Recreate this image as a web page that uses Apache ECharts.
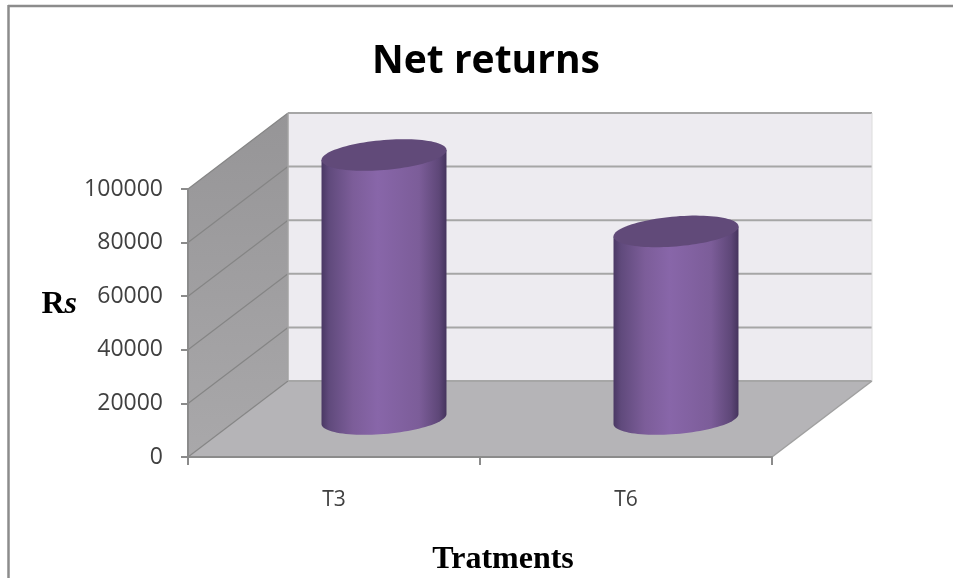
<!DOCTYPE html>
<html>
<head>
<meta charset="utf-8">
<script src="https://cdn.jsdelivr.net/npm/echarts@6/dist/echarts.min.js"></script>
<style>html,body{margin:0;padding:0;background:#fff}#c{width:953px;height:578px}</style>
</head>
<body>
<div id="c"></div>
<script>
const categories = ['T3', 'T6'];
const netReturns = [98500, 70000];
const yTicks = [0, 20000, 40000, 60000, 80000, 100000];

// oblique projection used by the 3D box
const depthX = 100, depthY = -76;
const radiusShare = 0.214, tilt = 0.08, capHalf = 15;

const chart = echarts.init(document.getElementById('c'), null, {renderer: 'canvas'});

function renderRoom(params, api) {
  const cs = params.coordSys;
  const L = cs.x, R = cs.x + cs.width;
  const yMax = api.coord([0, 100000])[1];
  const y0 = api.coord([0, 0])[1];
  const children = [];
  children.push({type: 'polygon', shape: {points: [[L, y0], [L + depthX, y0 + depthY], [L + depthX, yMax + depthY], [L, yMax]]},
    style: {fill: {type: 'linear', x: 0, y: 0, x2: 0, y2: 1, colorStops: [{offset: 0, color: '#969597'}, {offset: 1, color: '#a9a8aa'}]}}});
  children.push({type: 'polygon', shape: {points: [[L + depthX, y0 + depthY], [R + depthX, y0 + depthY], [R + depthX, yMax + depthY], [L + depthX, yMax + depthY]]},
    style: {fill: '#edebf0'}});
  children.push({type: 'polygon', shape: {points: [[L, y0], [R, y0], [R + depthX, y0 + depthY], [L + depthX, y0 + depthY]]},
    style: {fill: '#b5b4b7'}});
  yTicks.forEach(function (v) {
    const y = api.coord([0, v])[1];
    children.push({type: 'line', shape: {x1: L, y1: y, x2: L + depthX, y2: y + depthY}, style: {stroke: '#858585', lineWidth: 1.2}});
    children.push({type: 'line', shape: {x1: L + depthX, y1: y + depthY, x2: R + depthX, y2: y + depthY}, style: {stroke: '#a6a6a6', lineWidth: 2}});
  });
  children.push({type: 'line', shape: {x1: L + depthX, y1: yMax + depthY, x2: L + depthX, y2: y0 + depthY}, style: {stroke: '#a3a3a3', lineWidth: 1.5}});
  children.push({type: 'line', shape: {x1: R, y1: y0, x2: R + depthX, y2: y0 + depthY}, style: {stroke: '#a0a0a0', lineWidth: 1.5}});
  children.push({type: 'line', shape: {x1: R + depthX, y1: yMax + depthY, x2: R + depthX, y2: y0 + depthY}, style: {stroke: '#dcdcdc', lineWidth: 1}});
  return {type: 'group', children: children};
}

function renderCylinder(params, api) {
  const base = api.coord([api.value(0), 0]);
  const top = api.coord([api.value(0), api.value(1)]);
  const a = api.size([1, 0])[0] * radiusShare;
  const cx = base[0] + depthX / 2;
  const yb = base[1] + depthY / 2;
  const yt = top[1] + depthY / 2;
  const k = tilt, steps = 48;
  const pt = function (cy, t) {
    return [cx + a * Math.cos(t), cy + capHalf * Math.sin(t) - k * a * Math.cos(t)];
  };
  const body = [pt(yt, Math.PI), pt(yt, 0)];
  for (let i = 0; i <= steps; i++) body.push(pt(yb, Math.PI * i / steps));
  const cap = [];
  for (let i = 0; i < steps * 2; i++) cap.push(pt(yt, Math.PI * i / steps));
  return {type: 'group', children: [
    {type: 'polygon', shape: {points: body}, style: {
      fill: {type: 'linear', x: 0, y: 0, x2: 1, y2: 0, colorStops: [
        {offset: 0, color: '#4a3864'},
        {offset: 0.06, color: '#604a7c'},
        {offset: 0.25, color: '#7c5d99'},
        {offset: 0.45, color: '#8866a9'},
        {offset: 0.78, color: '#7c5d99'},
        {offset: 0.94, color: '#5e4778'},
        {offset: 1, color: '#45345d'}
      ]}}},
    {type: 'polygon', shape: {points: cap}, style: {fill: '#614a79'}}
  ]};
}

chart.setOption({
  animation: false,
  backgroundColor: '#ffffff',
  title: {
    text: 'Net returns', left: 481, top: 37, textAlign: 'center',
    textStyle: {fontFamily: 'Open Sans', fontWeight: 'bold', fontSize: 39, color: '#000000'}
  },
  grid: {left: 188, top: 189, width: 584, height: 268, containLabel: false, outerBoundsMode: 'none'},
  xAxis: {
    type: 'category', data: categories, z: 5,
    axisLine: {lineStyle: {color: '#8b8b8b', width: 2}},
    axisTick: {show: true, length: 8, lineStyle: {color: '#8b8b8b', width: 2}},
    axisLabel: {fontFamily: 'Open Sans', fontSize: 21, color: '#404040', margin: 33},
    name: 'Tratments', nameLocation: 'middle', nameGap: 87,
    nameTextStyle: {fontFamily: 'Liberation Serif', fontWeight: 'bold', fontSize: 32, color: '#000000', padding: [0, 0, 0, 46]}
  },
  yAxis: {
    type: 'value', min: 0, max: 100000, interval: 20000, z: 5,
    axisLine: {show: true, lineStyle: {color: '#8b8b8b', width: 2}},
    axisTick: {show: true, length: 7, lineStyle: {color: '#8b8b8b', width: 2}},
    axisLabel: {fontFamily: 'Open Sans', fontSize: 23, color: '#404040', margin: 25, padding: [8, 0, 0, 0], formatter: function (v) { return String(v); }},
    splitLine: {show: false},
    name: '{a|R}{b|s}', nameLocation: 'middle', nameGap: 111, nameRotate: 0,
    nameTextStyle: {
      padding: [0, 0, 36, 0],
      rich: {
        a: {fontFamily: 'Liberation Serif', fontWeight: 'bold', fontSize: 32, color: '#000000'},
        b: {fontFamily: 'Liberation Serif', fontWeight: 'bold', fontStyle: 'italic', fontSize: 32, color: '#000000'}
      }
    }
  },
  graphic: [
    {type: 'line', shape: {x1: 8, y1: 6, x2: 953, y2: 6}, style: {stroke: '#8c8c8c', lineWidth: 2.5}},
    {type: 'line', shape: {x1: 8.5, y1: 5, x2: 8.5, y2: 578}, style: {stroke: '#8c8c8c', lineWidth: 2.5}}
  ],
  series: [
    {type: 'custom', z: 1, silent: true, renderItem: renderRoom, data: [[0, 0]], encode: {x: 0, y: 1}, clip: false},
    {type: 'custom', z: 3, renderItem: renderCylinder, clip: false, encode: {x: 0, y: 1},
      data: categories.map(function (c, i) { return [i, netReturns[i]]; })}
  ]
});
</script>
</body>
</html>
